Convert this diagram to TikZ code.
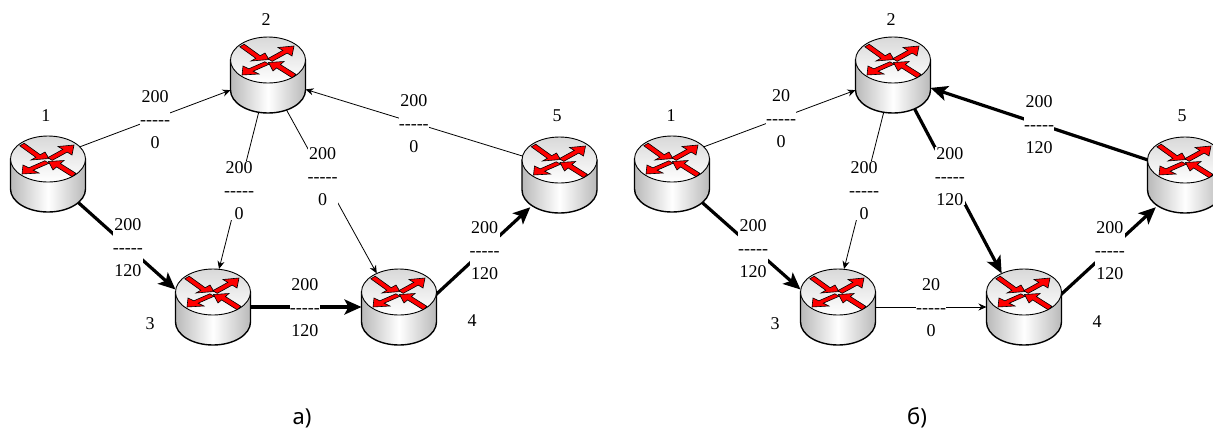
\documentclass[tikz,border=0pt]{standalone}
\usepackage{fontspec}
\setmainfont{Liberation Serif}
\newfontfamily\capfont{Noto Sans}
\usetikzlibrary{arrows.meta}

\newcommand{\drawrouter}[1]{%
  \begin{scope}[shift={(#1.center)}]
    \draw [routerside] (-37.5,-15) -- (-37.5,15) .. controls (-37.5,27.7) and (-20.7,38) .. (0,38)
      .. controls (20.7,38) and (37.5,27.7) .. (37.5,15) -- (37.5,-15) -- cycle;
    \draw [routertop] (0,-15) ellipse [x radius=37.5, y radius=23];
    \draw [redarrow] (-23.8,-30.8) -- (-7.8,-19.3) -- (-3,-22) -- (1,-15.5) -- (-17,-14) -- (-12.2,-16.7) -- (-28.2,-28.2) -- cycle;
    \draw [redarrow] (-.2,-16.35) -- (14.8,-24.6) -- (10,-27.5) -- (26,-29) -- (24,-19) -- (19.2,-21.9) -- (4.2,-13.65) -- cycle;
    \draw [redarrow] (27.9,-.7) -- (12.4,-10.45) -- (16,-13.5) -- (.5,-12.5) -- (5,-4) -- (8.6,-7.05) -- (24.1,2.7) -- cycle;
    \draw [redarrow] (-3.2,-13.2) -- (-19.2,-6.2) -- (-25,-9) -- (-26,0) -- (-9,-1) -- (-14.8,-3.8) -- (1.2,-10.8) -- cycle;
  \end{scope}}
\newcommand{\flowtext}[2]{#1\\-{}-{}-{}-{}-\\#2}

\tikzset{
  redarrow/.style={fill=red, draw=black, line width=0.6pt},
  routerside/.style={left color=gray!55, right color=gray!55, middle color=white, draw=black, line width=1.4pt},
  routertop/.style={top color=gray!30, bottom color=white, draw=black, line width=0.9pt},
  routerbox/.style={minimum width=75pt, minimum height=76pt, inner sep=0, outer sep=0},
  thinlink/.style={line width=0.8pt, shorten <=-14pt, -{Stealth[length=8pt, width=7pt]}},
  thicklink/.style={line width=3.2pt, shorten <=-14pt, -{Stealth[length=17pt, width=15pt, inset=4pt]}},
  flow/.style={fill=white, inner sep=0, yshift=-1pt, font=\fontsize{18}{23}\selectfont, align=center},
  num/.style={font=\fontsize{18}{22}\selectfont, inner sep=0},
  caption/.style={font=\capfont\fontsize{22}{26}\selectfont, inner sep=0}
}

\begin{document}
\begin{tikzpicture}[x=1pt, y=-1pt]
    \useasboundingbox (0,0) rectangle (1213,429);

    % left network
    \node [routerbox] (a1) at (48,174) {};
    \node [routerbox] (a2) at (268,75) {};
    \node [routerbox] (a3) at (213,307) {};
    \node [routerbox] (a4) at (399,307) {};
    \node [routerbox] (a5) at (559.5,175) {};

    \node [num] (na1) at (46,116) {1};
    \node [num] (na2) at (266,20) {2};
    \node [num] (na3) at (150,324) {3};
    \node [num] (na4) at (472,321) {4};
    \node [num] (na5) at (557,116) {5};

    \draw [thinlink] (a1.38.5) -- node [flow, pos=.48] {\flowtext{200}{0}} (a2.202);
    \draw [thinlink] (a2.256) -- node [flow, pos=.49] {\flowtext{200}{0}} (a3.81);
    \draw [thinlink, shorten >=-5pt] (a2.298.5) -- node [flow, pos=.40] {\flowtext{200}{0}} (a4.123);
    \draw [thinlink] (a5.153) -- node [flow, pos=.5] {\flowtext{200}{0}} (a2.339);
    \draw [thicklink] (a1.317) -- node [flow, pos=.47] {\flowtext{200}{120}} (a3.155);
    \draw [thicklink] (a3.0) -- node [flow, pos=.49] {\flowtext{200}{120}} (a4.180);
    \draw [thicklink, shorten >=-8.5pt] (a4.19) -- node [flow, pos=.55] {\flowtext{200}{120}} (a5.227);

    % right network
    \node [routerbox] (b1) at (672,174) {};
    \node [routerbox] (b2) at (893,75) {};
    \node [routerbox] (b3) at (838,307) {};
    \node [routerbox] (b4) at (1024,307) {};
    \node [routerbox] (b5) at (1185,175) {};

    \node [num] (nb1) at (671,116) {1};
    \node [num] (nb2) at (891,20) {2};
    \node [num] (nb3) at (775,324) {3};
    \node [num] (nb4) at (1097,322) {4};
    \node [num] (nb5) at (1182,116) {5};

    \draw [thinlink] (b1.38.5) -- node [flow, pos=.49] {\flowtext{20}{0}} (b2.202);
    \draw [thinlink] (b2.256) -- node [flow, pos=.49] {\flowtext{200}{0}} (b3.81);
    \draw [thicklink, shorten >=-5pt] (b2.302) -- node [flow, pos=.40] {\flowtext{200}{120}} (b4.123);
    \draw [thicklink] (b5.158) -- node [flow, pos=.5] {\flowtext{200}{120}} (b2.341);
    \draw [thicklink] (b1.317) -- node [flow, pos=.48] {\flowtext{200}{120}} (b3.155);
    \draw [thinlink] (b3.0) -- node [flow, pos=.5] {\flowtext{20}{0}} (b4.180);
    \draw [thicklink, shorten >=-8.5pt] (b4.19) -- node [flow, pos=.55] {\flowtext{200}{120}} (b5.227);

    % routers go over the line ends
    \foreach \r in {a1,a2,a3,a4,a5,b1,b2,b3,b4,b5}
        \drawrouter{\r};

    \node [caption] (capa) at (302,418) {а)};
    \node [caption] (capb) at (917,418) {б)};
\end{tikzpicture}
\end{document}
